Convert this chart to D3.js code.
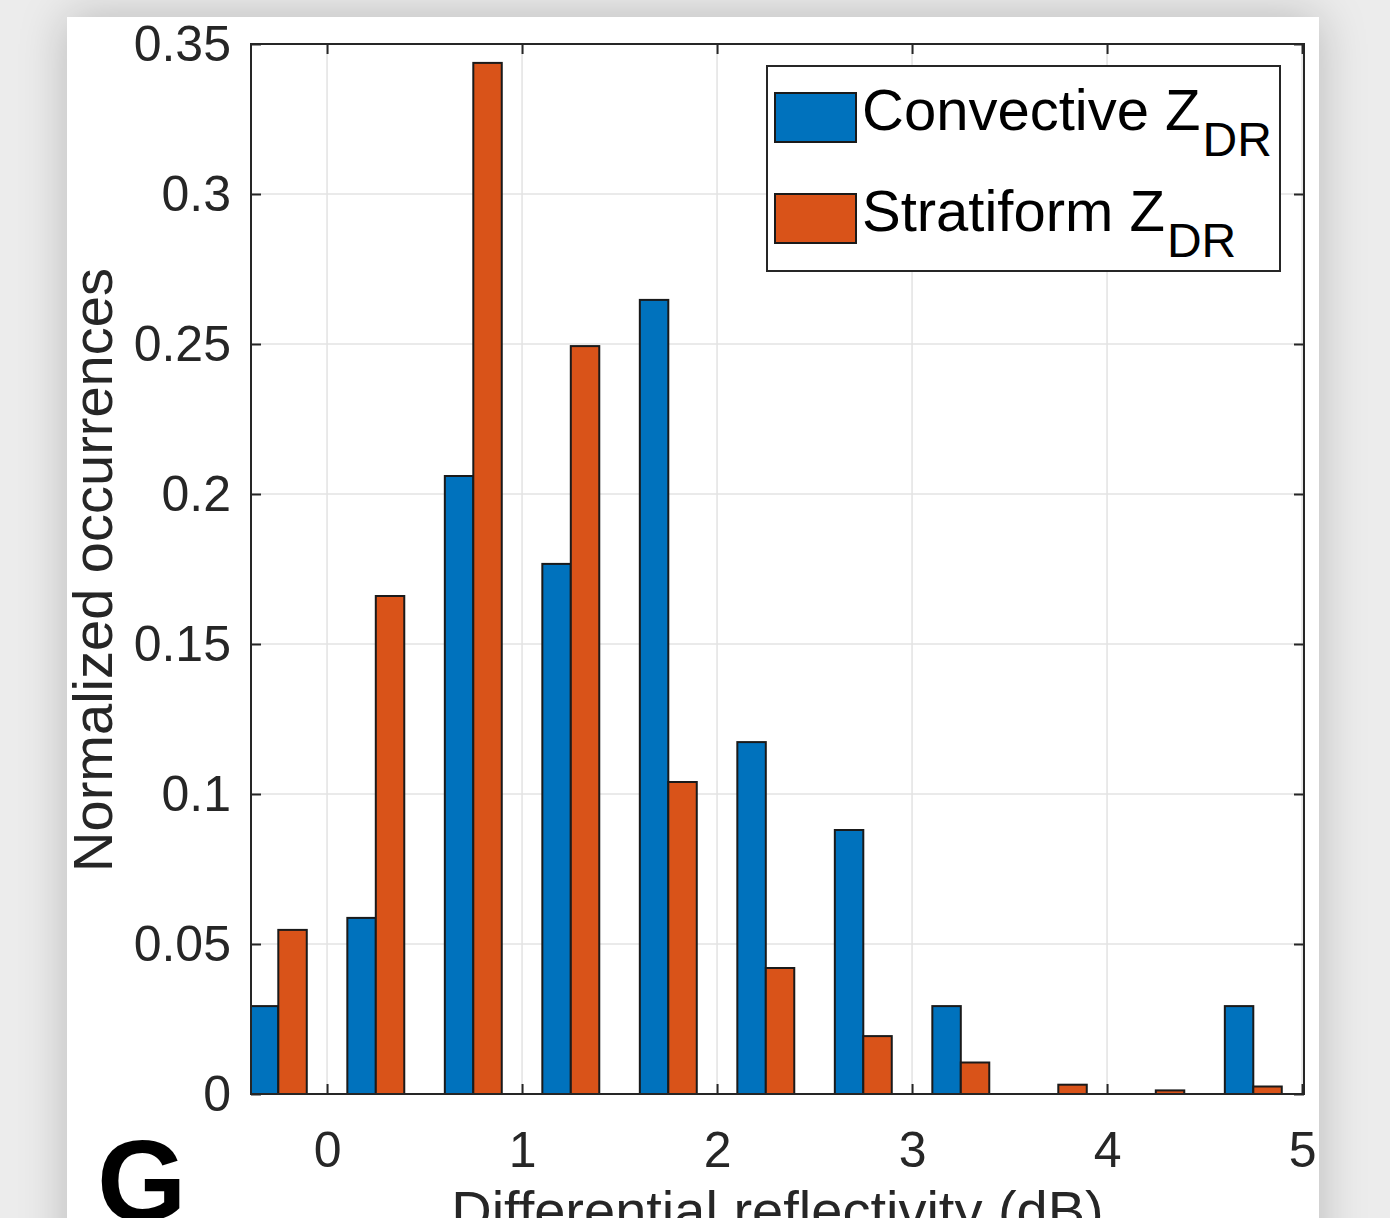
<!DOCTYPE html>
<html>
<head>
<meta charset="utf-8">
<script src="https://cdn.jsdelivr.net/npm/d3@7"></script>
<style>
  html, body { margin: 0; padding: 0; }
  body { width: 1390px; height: 1218px; overflow: hidden; background: #ececec; font-family: "Liberation Sans", Arial, sans-serif; }
  #panel { position: absolute; left: 67px; top: 17px; width: 1252px; height: 1260px; background: #fff;
           box-shadow: 0 0 45px rgba(0,0,0,0.22); }
  svg { position: absolute; left: 0; top: 0; }
</style>
</head>
<body>
<div id="panel"></div>
<svg id="chart" width="1390" height="1218"></svg>
<script>
// bin centres (dB)
const binCenters = [-0.25, 0.25, 0.75, 1.25, 1.75, 2.25, 2.75, 3.25, 3.75, 4.25, 4.75];
const convective = [0.0293, 0.0587, 0.206, 0.1767, 0.2647, 0.1173, 0.088, 0.0293, 0, 0, 0.0293];
const stratiform = [0.0547, 0.166, 0.3437, 0.2493, 0.104, 0.042, 0.0193, 0.0105, 0.0031, 0.0012, 0.0025];
const xTicks = [0, 1, 2, 3, 4, 5];
const yTicks = [0, 0.05, 0.1, 0.15, 0.2, 0.25, 0.3, 0.35];
const seriesNames = ["Convective Z", "Stratiform Z"];
const colors = ["#0072BD", "#D95319"];

const svg = d3.select("#chart");
const pl = 251, pr = 1304, pt = 44, pb = 1094;

const x = d3.scaleLinear().domain([-0.39, 5.01]).range([pl, pr]);
const y = d3.scaleLinear().domain([0, 0.35]).range([pb, pt]);
const halfW = 0.146; // bar width in dB

svg.append("defs").append("clipPath").attr("id", "clip")
  .append("rect").attr("x", pl).attr("y", pt).attr("width", pr - pl).attr("height", pb - pt);

// grid
const grid = svg.append("g").attr("stroke", "#e3e3e3").attr("stroke-width", 1.5);
grid.selectAll(".gx").data(xTicks).enter().append("line")
  .attr("x1", d => x(d)).attr("x2", d => x(d)).attr("y1", pt).attr("y2", pb);
grid.selectAll(".gy").data(yTicks).enter().append("line")
  .attr("x1", pl).attr("x2", pr).attr("y1", d => y(d)).attr("y2", d => y(d));

// bars
const bars = svg.append("g").attr("clip-path", "url(#clip)");
[convective, stratiform].forEach((vals, s) => {
  bars.selectAll(".b" + s)
    .data(binCenters.map((c, i) => ({ c, v: vals[i] })).filter(d => d.v > 0))
    .enter().append("rect")
    .attr("x", d => s === 0 ? x(d.c - halfW) : x(d.c))
    .attr("width", d => x(d.c + halfW) - x(d.c))
    .attr("y", d => y(d.v))
    .attr("height", d => y(0) - y(d.v))
    .attr("fill", colors[s])
    .attr("stroke", "#1a1a1a")
    .attr("stroke-width", 2);
});

// axes box + ticks (inward, on all four sides)
const axCol = "#262626";
svg.append("rect").attr("x", pl).attr("y", pt).attr("width", pr - pl).attr("height", pb - pt)
  .attr("fill", "none").attr("stroke", axCol).attr("stroke-width", 2);

const xAxisB = d3.axisBottom(x).tickValues(xTicks).tickSize(-10).tickPadding(37).tickFormat(d3.format("d"));
const xAxisT = d3.axisTop(x).tickValues(xTicks).tickSize(-10).tickFormat("");
const yAxisL = d3.axisLeft(y).tickValues(yTicks).tickSize(-10).tickPadding(20).tickFormat(d => String(+d.toFixed(2)));
const yAxisR = d3.axisRight(y).tickValues(yTicks).tickSize(-10).tickFormat("");

function styleAxis(g) {
  g.select(".domain").remove();
  g.selectAll(".tick line").attr("stroke", axCol).attr("stroke-width", 2);
  g.selectAll("text").attr("fill", axCol).style("font-size", "50px")
    .style("font-family", '"Liberation Sans", Arial, sans-serif');
}
svg.append("g").attr("transform", `translate(0,${pb})`).call(xAxisB).call(styleAxis)
  .selectAll("text").attr("dy", "0.71em");
svg.append("g").attr("transform", `translate(0,${pt})`).call(xAxisT).call(styleAxis);
svg.append("g").attr("transform", `translate(${pl},0)`).call(yAxisL).call(styleAxis);
svg.append("g").attr("transform", `translate(${pr},0)`).call(yAxisR).call(styleAxis);

// axis labels
svg.append("text")
  .attr("transform", "translate(112,570) rotate(-90)")
  .attr("text-anchor", "middle").attr("fill", axCol)
  .style("font-size", "56px").text("Normalized occurrences");
svg.append("text")
  .attr("x", (pl + pr) / 2).attr("y", 1230)
  .attr("text-anchor", "middle").attr("fill", axCol)
  .style("font-size", "56px").text("Differential reflectivity (dB)");

// panel letter
svg.append("text").attr("x", 97).attr("y", 1221)
  .style("font-size", "115px").style("font-weight", "bold").attr("fill", "#000").text("G");

// legend
const lg = svg.append("g");
lg.append("rect").attr("x", 767).attr("y", 66).attr("width", 513).attr("height", 205)
  .attr("fill", "#fff").attr("stroke", axCol).attr("stroke-width", 2);
seriesNames.forEach((name, i) => {
  const yy = 93 + i * 101;
  lg.append("rect").attr("x", 775).attr("y", yy).attr("width", 81).attr("height", 49)
    .attr("fill", colors[i]).attr("stroke", "#1a1a1a").attr("stroke-width", 2);
  const t = lg.append("text").attr("x", 862).attr("y", yy + 37).attr("fill", "#000").style("font-size", "58px");
  t.append("tspan").text(name);
  t.append("tspan").attr("dy", 26).attr("dx", 2).style("font-size", "48px").text("DR");
});
</script>
</body>
</html>
